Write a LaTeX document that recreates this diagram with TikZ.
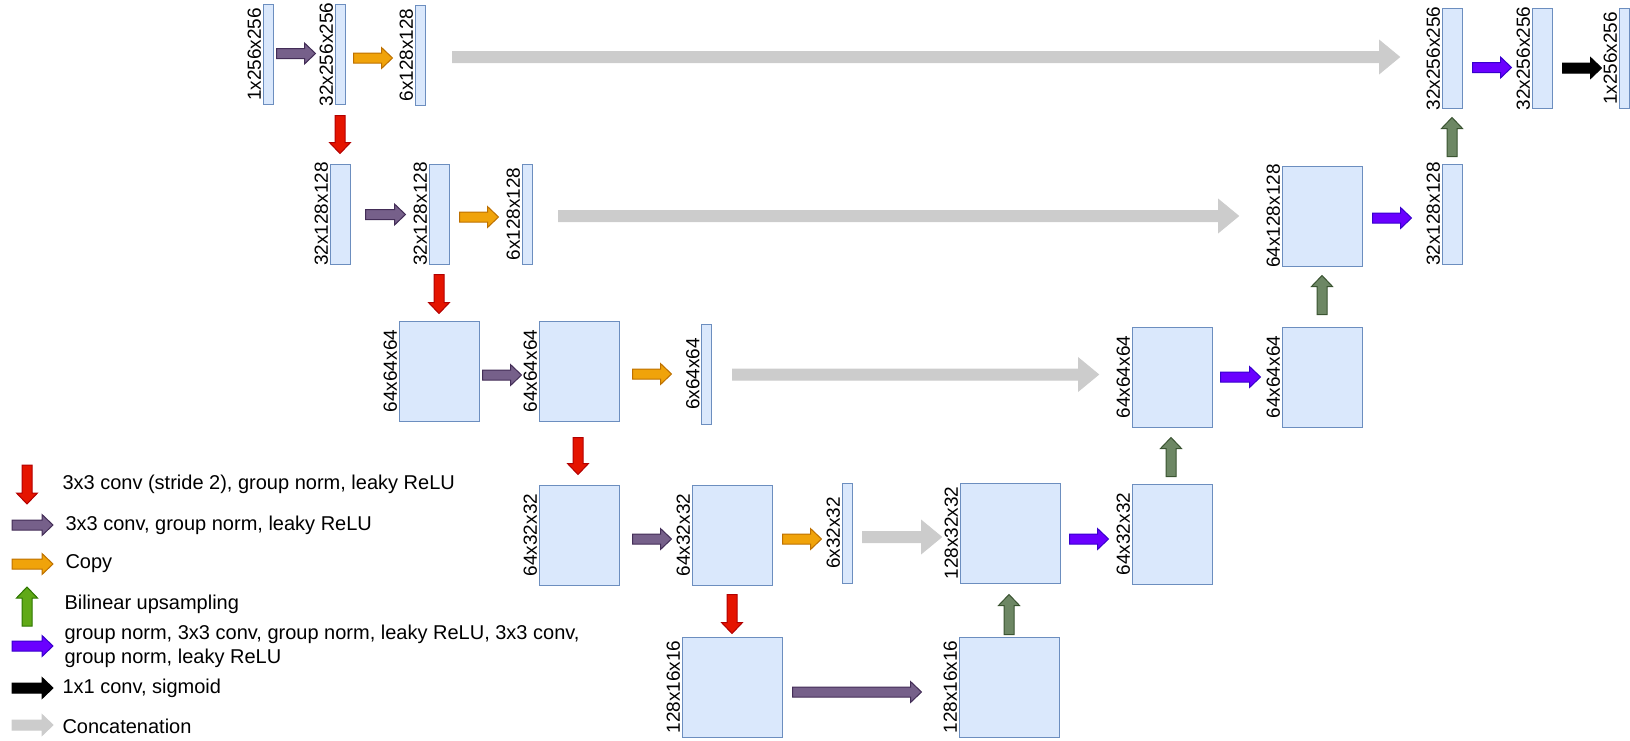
\documentclass[tikz,border=0pt]{standalone}
\usepackage{fontspec}
\setmainfont{Liberation Sans}
\usepackage{tikz}
\usetikzlibrary{calc,positioning}

\definecolor{blkfill}{HTML}{DAE8FC}
\definecolor{blkline}{HTML}{6C8EBF}
\definecolor{downfill}{HTML}{E51400}
\definecolor{downline}{HTML}{B20000}
\definecolor{convfill}{HTML}{76608A}
\definecolor{convline}{HTML}{432D57}
\definecolor{copyfill}{HTML}{F0A30A}
\definecolor{copyline}{HTML}{BD7000}
\definecolor{upfill}{HTML}{6D8764}
\definecolor{upline}{HTML}{3A5431}
\definecolor{keyupfill}{HTML}{60A917}
\definecolor{keyupline}{HTML}{2D7600}
\definecolor{decfill}{HTML}{6A00FF}
\definecolor{decline}{HTML}{3700CC}
\definecolor{catfill}{HTML}{CCCCCC}

\begin{document}
\begin{tikzpicture}[x=0.5pt, y=-0.5pt, line width=0.5pt,
        blk/.style={draw=blkline, fill=blkfill, inner sep=0pt, minimum height=50pt},
        slim/.style={blk, minimum width=5pt},
        mid/.style={blk, minimum width=10pt},
        wide/.style={blk, minimum width=40pt},
        big/.style={blk, minimum width=50pt},
        lab/.style={rotate=90, anchor=south, inner sep=0.5pt, font=\fontsize{9.5}{11}\selectfont},
        legend/.style={anchor=west, inner sep=0pt, align=left, font=\fontsize{10}{12}\selectfont},
        fat/.style n args={3}{to path={
            ($(\tikztostart)!#1!90:(\tikztotarget)$)
            -- ($(\tikztotarget)!#3!(\tikztostart)!#1!90:(\tikztotarget)$)
            -- ($(\tikztotarget)!#3!(\tikztostart)!#2!90:(\tikztotarget)$)
            -- (\tikztotarget)
            -- ($(\tikztotarget)!#3!(\tikztostart)!#2!-90:(\tikztotarget)$)
            -- ($(\tikztotarget)!#3!(\tikztostart)!#1!-90:(\tikztotarget)$)
            -- ($(\tikztostart)!#1!-90:(\tikztotarget)$) -- cycle}},
        fatsmall/.style={fat={2.5pt}{5.25pt}{5.5pt}},
        stride/.style={fatsmall, draw=downline, fill=downfill},
        conv/.style={fatsmall, draw=convline, fill=convfill},
        dup/.style={fatsmall, draw=copyline, fill=copyfill},
        upsamp/.style={fatsmall, draw=upline, fill=upfill},
        keyup/.style={fatsmall, draw=keyupline, fill=keyupfill},
        dec/.style={fatsmall, draw=decline, fill=decfill},
        final/.style={fatsmall, draw=black, fill=black},
        keycat/.style={fatsmall, draw=catfill, fill=catfill},
        concat/.style={fat={2.75pt}{8.25pt}{10pt}, draw=catfill, fill=catfill}]
        \useasboundingbox (0,0) rectangle (1630,740);

        \node[slim] (A1) at (268,54.5) {};   \node[lab] (A1t) at (A1.west) {1x256x256};
        \node[slim] (A2) at (340,54.5) {};   \node[lab] (A2t) at (A2.west) {32x256x256};
        \node[slim] (A3) at (420,55) {};     \node[lab] (A3t) at (A3.west) {6x128x128};
        \node[mid] (C1) at (340,214) {};     \node[lab] (C1t) at (C1.west) {32x128x128};
        \node[mid] (C2) at (439,214) {};     \node[lab] (C2t) at (C2.west) {32x128x128};
        \node[slim] (C3) at (527,214) {};    \node[lab] (C3t) at (C3.west) {6x128x128};
        \node[wide] (E1) at (439,371) {};    \node[lab] (E1t) at (E1.west) {64x64x64};
        \node[wide] (E2) at (579,371) {};    \node[lab] (E2t) at (E2.west) {64x64x64};
        \node[slim] (E3) at (706.5,374) {};  \node[lab] (E3t) at (E3.west) {6x64x64};
        \node[wide] (F1) at (579,535) {};    \node[lab] (F1t) at (F1.west) {64x32x32};
        \node[wide] (F2) at (732,535) {};    \node[lab] (F2t) at (F2.west) {64x32x32};
        \node[slim] (F3) at (847,533) {};    \node[lab] (F3t) at (F3.west) {6x32x32};
        \node[big] (G1) at (732,687) {};     \node[lab] (G1t) at (G1.west) {128x16x16};
        \node[big] (G2) at (1009,687) {};    \node[lab] (G2t) at (G2.west) {128x16x16};
        \node[big] (H1) at (1010,533) {};    \node[lab] (H1t) at (H1.west) {128x32x32};
        \node[wide] (H2) at (1172,534) {};   \node[lab] (H2t) at (H2.west) {64x32x32};
        \node[wide] (D3) at (1172,377) {};   \node[lab] (D3t) at (D3.west) {64x64x64};
        \node[wide] (D2) at (1322,377) {};   \node[lab] (D2t) at (D2.west) {64x64x64};
        \node[wide] (D1) at (1322,216) {};   \node[lab] (D1t) at (D1.west) {64x128x128};
        \node[mid] (B4) at (1452,214) {};    \node[lab] (B4t) at (B4.west) {32x128x128};
        \node[mid] (B1) at (1452,58.5) {};   \node[lab] (B1t) at (B1.west) {32x256x256};
        \node[mid] (B2) at (1542,58.5) {};   \node[lab] (B2t) at (B2.west) {32x256x256};
        \node[slim] (B3) at (1624,58.5) {};  \node[lab] (B3t) at (B3.west) {1x256x256};

        \draw[conv] ([shift={(3,-1)}]A1.east) to ([shift={(-19,-1)}]A2.west);
        \draw[conv] ([shift={(15,0.5)}]C1.east) to ([shift={(-23,0.5)}]C2.west);
        \draw[conv] ([shift={(3,4)}]E1.east) to ([shift={(-17,4)}]E2.west);
        \draw[conv] ([shift={(13,4)}]F1.east) to ([shift={(-20,4)}]F2.west);
        \draw[conv] ([shift={(10,5)}]G1.east) to ([shift={(-37,5)}]G2.west);

        \draw[dup] ([shift={(8,3.5)}]A2.east) to ([shift={(-22,3)}]A3.west);
        \draw[dup] ([shift={(10,3)}]C2.east) to ([shift={(-23,3)}]C3.west);
        \draw[dup] ([shift={(13,3)}]E2.east) to ([shift={(-29.5,0)}]E3.west);
        \draw[dup] ([shift={(10,4)}]F2.east) to ([shift={(-20,6)}]F3.west);

        \draw[concat] ([shift={(27,2)}]A3.east) to ([shift={(-42,-1.5)}]B1.west);
        \draw[concat] ([shift={(26,2)}]C3.east) to ([shift={(-43,0)}]D1.west);
        \draw[concat] ([shift={(20.5,0.5)}]E3.east) to ([shift={(-33,-2.5)}]D3.west);
        \draw[concat] ([shift={(10,4)}]F3.east) to ([shift={(-18,4)}]H1.west);

        \draw[stride] ([shift={(0,10.5)}]A2.south) to ([shift={(0,-10)}]C1.north);
        \draw[stride] ([shift={(0,10)}]C2.south) to ([shift={(0,-7)}]E1.north);
        \draw[stride] ([shift={(-1,16)}]E2.south) to ([shift={(-1,-10)}]F1.north);
        \draw[stride] ([shift={(0,9)}]F2.south) to ([shift={(0,-3)}]G1.north);

        \draw[upsamp] ([shift={(0,-2)}]G2.north) to ([shift={(-1,11)}]H1.south);
        \draw[upsamp] ([shift={(-1,-7)}]H2.north) to ([shift={(-1,10)}]D3.south);
        \draw[upsamp] ([shift={(0,-12)}]D2.north) to ([shift={(0,9)}]D1.south);
        \draw[upsamp] ([shift={(0,-7)}]B4.north) to ([shift={(0,8.5)}]B1.south);

        \draw[dec] ([shift={(9,6)}]H1.east) to ([shift={(-23,5)}]H2.west);
        \draw[dec] ([shift={(8,0)}]D3.east) to ([shift={(-21,0)}]D2.west);
        \draw[dec] ([shift={(10,2)}]D1.east) to ([shift={(-30,4)}]B4.west);
        \draw[dec] ([shift={(10,9)}]B1.east) to ([shift={(-20,9)}]B2.west);
        \draw[final] ([shift={(10,9.5)}]B2.east) to ([shift={(-17,9.5)}]B3.west);

        \node[legend] (k1) at (62,484) {3x3 conv (stride 2), group norm, leaky ReLU};
        \node[legend] (k2) at (65,525) {3x3 conv, group norm, leaky ReLU};
        \node[legend] (k3) at (65,564) {Copy};
        \node[legend] (k4) at (64,604) {Bilinear upsampling};
        \node[legend] (k5) at (64,646) {group norm, 3x3 conv, group norm, leaky ReLU, 3x3 conv,\\group norm, leaky ReLU};
        \node[legend] (k6) at (62,688) {1x1 conv, sigmoid};
        \node[legend] (k7) at (62,726) {Concatenation};

        \draw[stride] ([shift={(-35,-19)}]k1.west) to ([shift={(-35,20)}]k1.west);
        \draw[conv] ([shift={(-53,0)}]k2.west) to ([shift={(-12,0)}]k2.west);
        \draw[dup] ([shift={(-53,0)}]k3.west) to ([shift={(-12,0)}]k3.west);
        \draw[keyup] ([shift={(-37,22)}]k4.west) to ([shift={(-37,-17)}]k4.west);
        \draw[dec] ([shift={(-52,0)}]k5.west) to ([shift={(-11,0)}]k5.west);
        \draw[final] ([shift={(-50,0)}]k6.west) to ([shift={(-9,0)}]k6.west);
        \draw[keycat] ([shift={(-50,-1)}]k7.west) to ([shift={(-9,-1)}]k7.west);
    \end{tikzpicture}
\end{document}
